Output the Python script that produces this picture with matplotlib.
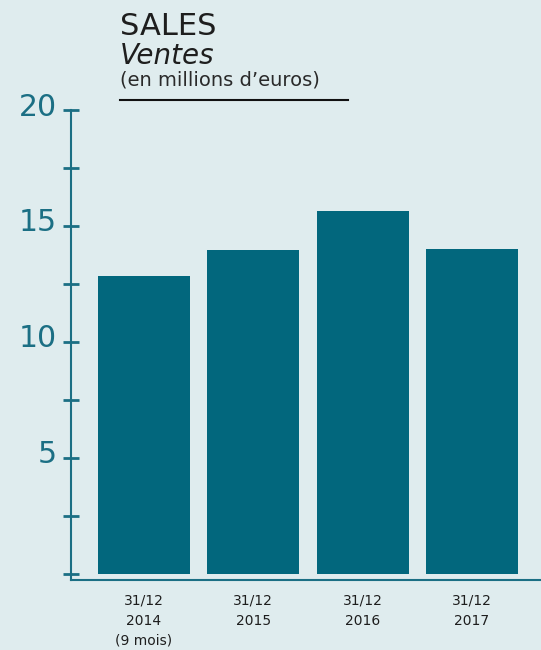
import numpy as np
import matplotlib.pyplot as plt
from matplotlib.transforms import ScaledTranslation
from matplotlib.ticker import MultipleLocator

categories = ["31/12\n2014\n(9 mois)", "31/12\n2015", "31/12\n2016", "31/12\n2017"]
ventes = [12.85, 13.98, 15.65, 14.02]
yticks = [5, 10, 15, 20]

bg = "#dfecee"
teal = "#02677d"
axis_col = "#1b6f84"

plt.rcParams['font.family'] = ['DejaVu Sans']

fig = plt.figure(figsize=(5.41, 6.50), dpi=100, facecolor=bg)
ax = fig.add_axes([70.5/541, 1 - 580/650, 1 - 70.5/541, (580 - 110)/650])
ax.set_facecolor(bg)

x = np.arange(len(ventes))
ax.bar(x, ventes, width=0.84, color=teal, zorder=2)

ax.set_xlim(-0.672, 3.632)
ax.set_ylim(-0.27, 20.0)

for s in ["top", "right"]:
    ax.spines[s].set_visible(False)
ax.spines["left"].set_color(axis_col)
ax.spines["bottom"].set_color(axis_col)
ax.spines["left"].set_linewidth(1.5)
ax.spines["bottom"].set_linewidth(1.5)

ax.set_yticks([0] + yticks)
ax.set_yticklabels([""] + [str(v) for v in yticks])
ax.yaxis.set_minor_locator(MultipleLocator(2.5))
ax.tick_params(axis="y", which="both", direction="inout", length=11, width=2,
               color=axis_col, labelcolor=axis_col, labelsize=21.5, pad=4)
for lab in ax.get_yticklabels():
    lab.set_transform(lab.get_transform() + ScaledTranslation(0, 6/100, fig.dpi_scale_trans))

ax.set_xticks(x)
ax.set_xticklabels(categories, fontsize=10, color="#1e1e1e", linespacing=1.55)
ax.tick_params(axis="x", length=0, pad=10)

fig.text(120/541, 1 - 35/650, "SALES", fontsize=22, color="#1e1e1e", va="baseline")
fig.text(120/541, 1 - 64/650, "Ventes", fontsize=20, style="italic", color="#1e1e1e", va="baseline")
fig.text(120/541, 1 - 86/650, "(en millions d\u2019euros)", fontsize=14, color="#2a2a2a", va="baseline")
fig.add_artist(plt.Line2D([120/541, 348/541], [1 - 100/650, 1 - 100/650], color="#111111", lw=1.5))

fig.savefig("out.png", dpi=100, facecolor=bg)
